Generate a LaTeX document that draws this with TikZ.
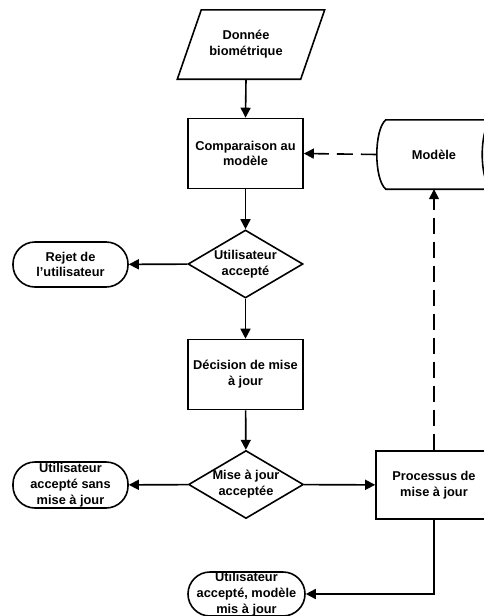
\documentclass[tikz,border=0pt]{standalone}
\usepackage{fontspec}
\setmainfont{Liberation Sans}
\usetikzlibrary{arrows.meta, shapes.geometric}

\begin{document}
\begin{tikzpicture}[
    x=1pt, y=-1pt,
    >={Triangle[length=10pt, width=10pt]},
    font=\bfseries\fontsize{12.8}{15.8}\selectfont,
    every node/.style={align=center, inner sep=0},
    proc/.style={rectangle, draw, line width=1.6pt, minimum width=115, minimum height=70},
    term/.style={rectangle, rounded corners=22, draw, line width=1.6pt, minimum width=115, minimum height=45},
    choice/.style={diamond, aspect=1.7, draw, line width=1.6pt, minimum width=115, minimum height=68},
    outline/.style={line width=1.6pt},
    flow/.style={->, line width=1.6pt},
    dflow/.style={->, line width=1.6pt, dash pattern=on 16pt off 8pt}
]
    \useasboundingbox (0,0) rectangle (484,616);
    \clip (0,0) rectangle (484,616);

    % =========================================================
    % MAIN COLUMN
    % =========================================================
    \node[minimum width=123, minimum height=69] (donnee) at (246,44.5) {Donnée\\biométrique};
    \draw[outline] ([xshift=17]donnee.north west) -- ([xshift=17]donnee.north east)
        -- ([xshift=-7]donnee.south east) -- ([xshift=-7]donnee.south west) -- cycle;
    \node[proc] (compare) at (245.5,153.5) {Comparaison au\\modèle};
    \node[choice] (accepte) at (245.5,264) {Utilisateur\\accepté};
    \node[proc] (decision) at (245.5,374.5) {Décision de mise\\à jour};
    \node[choice] (majok) at (246,484.5) {Mise à jour\\acceptée};
    \node[term, minimum width=117, minimum height=44] (avecmaj) at (246.5,594) {Utilisateur\\accepté, modèle\\mis à jour};

    % Left terminals
    \node[term] (rejet) at (70.5,264.5) {Rejet de\\l’utilisateur};
    \node[term, minimum height=46] (sansmaj) at (70.5,485) {Utilisateur\\accepté sans\\mise à jour};

    % Right column
    \node[minimum width=114, minimum height=69] (modele) at (434,154.5) {Modèle};
    \draw[outline] ([xshift=9]modele.north west) -- (modele.north east)
        .. controls ([xshift=-12, yshift=-10]modele.north east) and ([xshift=-12, yshift=10]modele.south east) .. (modele.south east)
        -- ([xshift=9]modele.south west)
        .. controls ([xshift=-3, yshift=10]modele.south west) and ([xshift=-3, yshift=-10]modele.north west) .. cycle;
    \node[proc, minimum width=116, minimum height=68] (processus) at (434,485) {Processus de\\mise à jour};

    % =========================================================
    % CONNECTORS
    % =========================================================
    \draw[flow] (donnee.south) -- (compare.north);
    \draw[dflow] (modele.west) -- (compare.east);
    \draw[flow] (compare) -- (accepte);
    \draw[flow] (accepte) -- (rejet);
    \draw[flow] (accepte) -- (decision);
    \draw[flow] (decision) -- (majok);
    \draw[flow] (majok) -- (sansmaj);
    \draw[flow] (majok) -- (processus);
    \draw[dflow] (processus) -- (modele);
    \draw[flow] (processus.south) |- (avecmaj.east);

\end{tikzpicture}
\end{document}
